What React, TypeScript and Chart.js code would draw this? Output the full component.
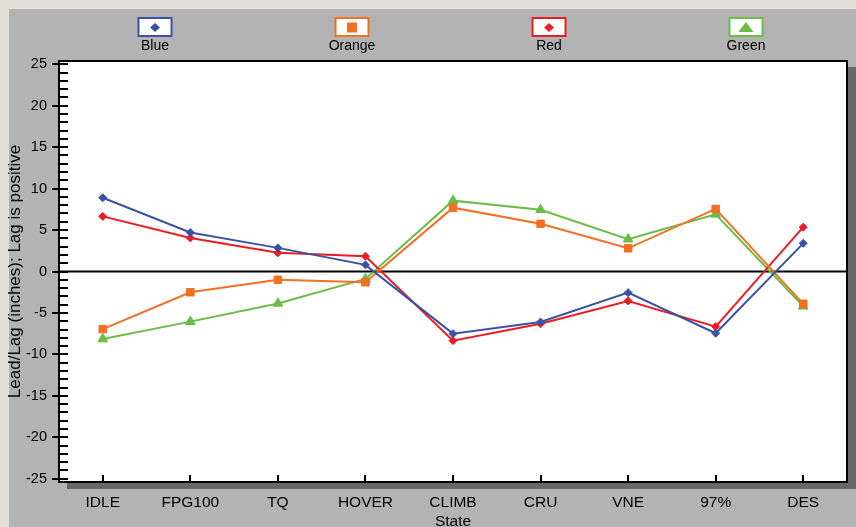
import { useEffect, useRef } from 'react';
import { Chart, registerables } from 'chart.js';

Chart.register(...registerables);

const categories = ['IDLE', 'FPG100', 'TQ', 'HOVER', 'CLIMB', 'CRU', 'VNE', '97%', 'DES'];
const seriesNames = ['Blue', 'Orange', 'Red', 'Green'];
const blueValues = [8.9, 4.7, 2.85, 0.8, -7.5, -6.1, -2.55, -7.45, 3.4];
const orangeValues = [-6.95, -2.5, -1.0, -1.3, 7.7, 5.75, 2.8, 7.55, -3.9];
const redValues = [6.65, 4.05, 2.25, 1.85, -8.35, -6.3, -3.55, -6.65, 5.35];
const greenValues = [-8.15, -6.05, -3.85, -0.9, 8.55, 7.45, 3.9, 6.9, -4.2];
const yTickValues = [-25, -20, -15, -10, -5, 0, 5, 10, 15, 20, 25];
const yMinorStep = 1;

const COLORS = ['#3953a4', '#f36f21', '#ed1c24', '#6abd45'];
const STYLES = ['rectRot', 'rect', 'rectRot', 'triangle'];
const RADII = [4, 5.3, 4, 5.6];
const FONT = '"Liberation Sans", Arial, Helvetica, sans-serif';

function drawLegendMarker(ctx: CanvasRenderingContext2D, style: string, cx: number, cy: number, color: string) {
  ctx.save();
  ctx.fillStyle = color;
  ctx.beginPath();
  if (style === 'rectRot') {
    ctx.moveTo(cx, cy - 4.6);
    ctx.lineTo(cx + 5, cy);
    ctx.lineTo(cx, cy + 4.6);
    ctx.lineTo(cx - 5, cy);
    ctx.closePath();
  } else if (style === 'rect') {
    ctx.rect(cx - 5, cy - 5, 10, 10);
  } else {
    ctx.moveTo(cx, cy - 5.5);
    ctx.lineTo(cx + 7.5, cy + 4.5);
    ctx.lineTo(cx - 7.5, cy + 4.5);
    ctx.closePath();
  }
  ctx.fill();
  ctx.restore();
}

const decorPlugin = {
  id: 'decor',
  beforeDraw(chart: any) {
    const { ctx, width, height, chartArea } = chart;
    const { left, top, right, bottom } = chartArea;
    ctx.save();
    ctx.fillStyle = '#e2ded8';
    ctx.fillRect(0, 0, width, height);
    ctx.fillStyle = '#b3b3b3';
    ctx.fillRect(9, 9, width - 9, height - 9);
    ctx.fillStyle = '#676767';
    ctx.fillRect(left + 8, top + 6, right - left + 1, bottom - top + 1);
    ctx.fillStyle = '#ffffff';
    ctx.fillRect(left, top, right - left, bottom - top);
    ctx.restore();
  },
  beforeDatasetsDraw(chart: any) {
    const { ctx, chartArea } = chart;
    const y0 = chart.scales.y.getPixelForValue(0);
    ctx.save();
    ctx.strokeStyle = '#000';
    ctx.lineWidth = 2;
    ctx.beginPath();
    ctx.moveTo(chartArea.left, y0);
    ctx.lineTo(chartArea.right, y0);
    ctx.stroke();
    ctx.restore();
  },
  afterDatasetsDraw(chart: any) {
    const { ctx, chartArea } = chart;
    const { left, top, right, bottom } = chartArea;
    const ys = chart.scales.y;
    const xs = chart.scales.x;
    ctx.save();
    ctx.strokeStyle = '#000';
    ctx.lineWidth = 2;
    ctx.strokeRect(left, top, right - left, bottom - top);
    const minV = yTickValues[0];
    const maxV = yTickValues[yTickValues.length - 1];
    for (let v = minV; v <= maxV; v += yMinorStep) {
      const py = Math.round(ys.getPixelForValue(v));
      const major = yTickValues.includes(v);
      ctx.beginPath();
      ctx.moveTo(major ? left - 7 : left, py);
      ctx.lineTo(left + 9, py);
      ctx.stroke();
    }
    categories.forEach((_, i) => {
      const px = Math.round(xs.getPixelForValue(i));
      ctx.beginPath();
      ctx.moveTo(px, bottom);
      ctx.lineTo(px, bottom - 7);
      ctx.stroke();
    });
    // legend
    const slot = (right - left) / seriesNames.length;
    seriesNames.forEach((name, i) => {
      const cx = left + slot * (i + 0.5) - 2.5;
      ctx.fillStyle = '#ffffff';
      ctx.fillRect(cx - 16.5, 18, 33, 18);
      ctx.strokeStyle = COLORS[i];
      ctx.lineWidth = 2;
      ctx.strokeRect(cx - 16.5, 18, 33, 18);
      drawLegendMarker(ctx, STYLES[i], cx, 27.5, COLORS[i]);
      ctx.fillStyle = '#000';
      ctx.font = `14px ${FONT}`;
      ctx.textAlign = 'center';
      ctx.textBaseline = 'middle';
      ctx.fillText(name, cx, 46.5);
    });
    ctx.restore();
  },
};

export default function App() {
  const ref = useRef<HTMLCanvasElement>(null);
  useEffect(() => {
    document.body.style.margin = '0';
    const canvas = ref.current!;
    const allValues = [blueValues, orangeValues, redValues, greenValues];
    const chart = new Chart(canvas, {
      type: 'line',
      data: {
        labels: categories,
        datasets: seriesNames.map((name, i) => ({
          label: name,
          data: allValues[i],
          borderColor: COLORS[i],
          backgroundColor: COLORS[i],
          borderWidth: 2,
          pointStyle: STYLES[i] as any,
          pointRadius: RADII[i],
          pointBorderWidth: 1,
          pointBackgroundColor: COLORS[i],
          pointBorderColor: COLORS[i],
          tension: 0,
          fill: false,
        })),
      },
      options: {
        animation: false,
        responsive: false,
        devicePixelRatio: 1,
        layout: { padding: { left: 0, top: 61, right: 9, bottom: 0 } },
        plugins: { legend: { display: false }, tooltip: { enabled: false } },
        scales: {
          x: {
            type: 'category',
            offset: true,
            grid: { display: false, drawTicks: false },
            border: { display: false },
            ticks: { color: '#000', font: { family: FONT, size: 15.5 }, padding: 11.5, maxRotation: 0, autoSkip: false },
            title: { display: true, text: 'State', color: '#000', font: { family: FONT, size: 15.5 }, padding: { top: 0, bottom: -3.8 } },
            afterFit: (s: any) => { s.height = 45; },
          },
          y: {
            type: 'linear',
            min: -25.4,
            max: 25.4,
            grid: { display: false, drawTicks: false },
            border: { display: false },
            afterBuildTicks: (s: any) => { s.ticks = yTickValues.map((v) => ({ value: v })); },
            ticks: { color: '#000', font: { family: FONT, size: 14.5 }, padding: 12 },
            title: { display: true, text: 'Lead/Lag (inches); Lag is positive', color: '#000', font: { family: FONT, size: 17 }, padding: { top: 5.3, bottom: 0 } },
            afterFit: (s: any) => { s.width = 59; },
          },
        },
      },
      plugins: [decorPlugin],
    });
    return () => chart.destroy();
  }, []);
  return <canvas ref={ref} width={856} height={527} style={{ display: 'block', width: 856, height: 527 }} />;
}
